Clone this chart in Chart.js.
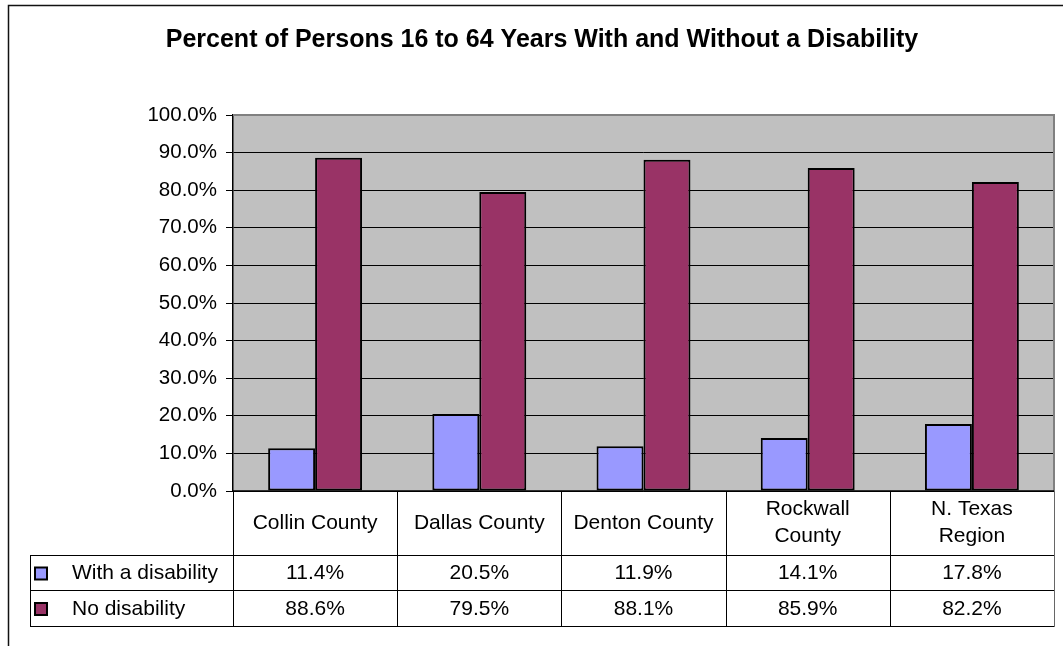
<!DOCTYPE html>
<html>
<head>
<meta charset="utf-8">
<script src="https://cdn.jsdelivr.net/npm/chart.js@4/dist/chart.umd.min.js"></script>
<style>
  body { margin: 0; background: #fff; }
  #wrap { width: 1063px; height: 646px; }
</style>
</head>
<body>
<div id="wrap"><canvas id="disabilityChart" width="1063" height="646"></canvas></div>
<script>
var chartTitle = 'Percent of Persons 16 to 64 Years With and Without a Disability';
var categories = ['Collin County', 'Dallas County', 'Denton County', ['Rockwall', 'County'], ['N. Texas', 'Region']];
var withDisability = [11.4, 20.5, 11.9, 14.1, 17.8];
var noDisability = [88.6, 79.5, 88.1, 85.9, 82.2];
var seriesNames = ['With a disability', 'No disability'];

var FONT = '"Liberation Sans", Arial, sans-serif';

// white page, grey plot area, then title, frame and data table on top
var tablePlugin = {
    id: 'dataTable',
    beforeDraw: function (chart) {
        var ctx = chart.ctx;
        var area = chart.chartArea;
        ctx.save();
        ctx.fillStyle = '#fff';
        ctx.fillRect(0, 0, chart.width, chart.height);
        ctx.fillStyle = '#C0C0C0';
        ctx.fillRect(area.left, area.top, area.right - area.left, area.bottom - area.top);
        ctx.restore();
    },
    afterDraw: function (chart) {
        var ctx = chart.ctx;
        var area = chart.chartArea;
        var xs = chart.scales.x;
        var n = categories.length;
        var colW = (area.right - area.left) / n;
        var headTop = area.bottom, headBottom = area.bottom + 64;
        var row1 = headBottom + 35, row2 = row1 + 36;
        var legendLeft = 30;

        ctx.save();
        // outer frame
        ctx.strokeStyle = '#111';
        ctx.lineWidth = 1.5;
        ctx.beginPath();
        ctx.moveTo(8.5, chart.height);
        ctx.lineTo(8.5, 5.5);
        ctx.lineTo(chart.width, 5.5);
        ctx.stroke();

        // title
        ctx.fillStyle = '#000';
        ctx.font = 'bold 25px ' + FONT;
        ctx.textAlign = 'center';
        ctx.textBaseline = 'middle';
        ctx.fillText(chartTitle, 542, 40);

        // plot border (grey top and right)
        ctx.strokeStyle = '#808080';
        ctx.lineWidth = 2;
        ctx.beginPath();
        ctx.moveTo(area.left, area.top);
        ctx.lineTo(area.right, area.top);
        ctx.lineTo(area.right, area.bottom);
        ctx.stroke();

        // table grid
        ctx.strokeStyle = '#000';
        ctx.lineWidth = 1;
        ctx.beginPath();
        for (var i = 0; i < n; i++) {
            var bx = Math.round(area.left + colW * i) + 0.5;
            ctx.moveTo(bx, headTop);
            ctx.lineTo(bx, row2);
        }
        [headBottom, row1, row2].forEach(function (y) {
            ctx.moveTo(legendLeft, y + 0.5);
            ctx.lineTo(area.right, y + 0.5);
        });
        ctx.moveTo(legendLeft + 0.5, headBottom);
        ctx.lineTo(legendLeft + 0.5, row2);
        ctx.stroke();
        ctx.strokeStyle = '#666';
        ctx.beginPath();
        ctx.moveTo(area.right + 0.5, headTop);
        ctx.lineTo(area.right + 0.5, row2 + 1);
        ctx.stroke();

        // x axis line
        ctx.strokeStyle = '#000';
        ctx.lineWidth = 1.5;
        ctx.beginPath();
        ctx.moveTo(area.left, area.bottom);
        ctx.lineTo(area.right, area.bottom);
        ctx.stroke();

        // header labels
        ctx.fillStyle = '#000';
        ctx.font = '21px ' + FONT;
        ctx.textAlign = 'center';
        ctx.textBaseline = 'middle';
        categories.forEach(function (c, i) {
            var cx = xs.getPixelForValue(i);
            var lines = Array.isArray(c) ? c : [c];
            var mid = (headTop + headBottom) / 2;
            lines.forEach(function (t, k) {
                ctx.fillText(t, cx, mid + (k - (lines.length - 1) / 2) * 27);
            });
        });

        // rows
        var rows = [withDisability, noDisability];
        var rowTops = [headBottom, row1, row2];
        chart.data.datasets.forEach(function (ds, r) {
            var my = (rowTops[r] + rowTops[r + 1]) / 2 + 1;
            ctx.fillStyle = ds.backgroundColor;
            ctx.fillRect(35, my - 6, 12, 12);
            ctx.strokeStyle = '#000';
            ctx.lineWidth = 2;
            ctx.strokeRect(35, my - 6, 12, 12);
            ctx.fillStyle = '#000';
            ctx.textAlign = 'left';
            ctx.fillText(seriesNames[r], 72, my);
            ctx.textAlign = 'center';
            rows[r].forEach(function (v, i) {
                ctx.fillText(v.toFixed(1) + '%', xs.getPixelForValue(i), my);
            });
        });
        ctx.restore();
    }
};

var ctx = document.getElementById('disabilityChart').getContext('2d');
window.disabilityChart = new Chart(ctx, {
    type: 'bar',
    data: {
        labels: categories,
        datasets: [{
            label: seriesNames[0],
            data: withDisability,
            backgroundColor: '#9999FF',
            borderColor: '#000',
            borderWidth: 2,
            borderSkipped: false
        },
        {
            label: seriesNames[1],
            data: noDisability,
            backgroundColor: '#993366',
            borderColor: '#000',
            borderWidth: 2,
            borderSkipped: false
        }]
    },
    options: {
        responsive: false,
        animation: false,
        layout: { padding: { left: 8, top: 115, right: 9, bottom: 155 } },
        datasets: { bar: { categoryPercentage: 0.572, barPercentage: 1 } },
        plugins: {
            legend: { display: false },
            title: { display: false },
            tooltip: { enabled: false }
        },
        scales: {
            x: { display: false },
            y: {
                min: 0,
                max: 100,
                afterFit: function (scale) { scale.width = 225; },
                ticks: {
                    stepSize: 10,
                    padding: 9,
                    color: '#000',
                    font: { family: FONT, size: 20.5 },
                    callback: function (v) { return v.toFixed(1) + '%'; }
                },
                grid: {
                    color: function (c) { return c.tick && c.tick.value === 100 ? '#808080' : '#000'; },
                    tickColor: '#000',
                    tickLength: 7,
                    lineWidth: 1
                },
                border: { color: '#000', width: 1.5 }
            }
        }
    },
    plugins: [tablePlugin]
});
</script>
</body>
</html>
